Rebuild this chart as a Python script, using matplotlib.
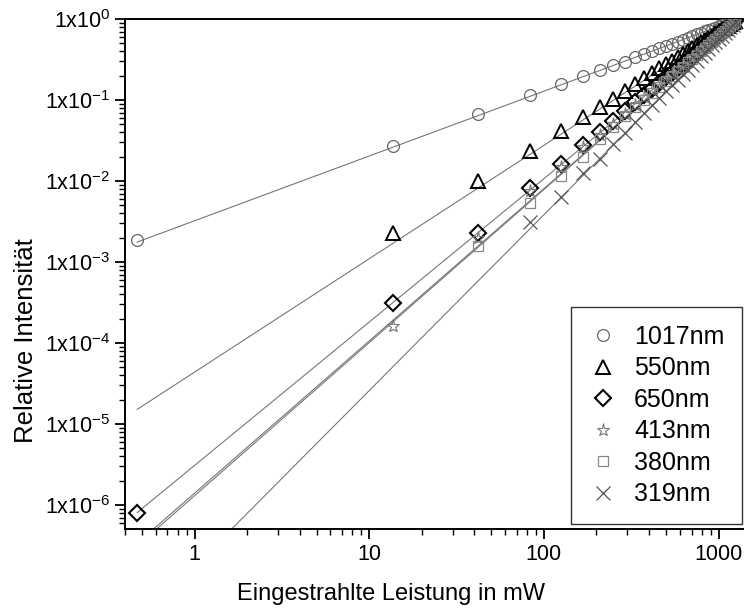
import matplotlib
matplotlib.use('Agg')
import matplotlib.pyplot as plt
import matplotlib.ticker as ticker
import numpy as np

plt.rcParams['font.family'] = ['Liberation Sans', 'DejaVu Sans']
plt.rcParams['mathtext.default'] = 'regular'

# pump power in mW (first two points, then the regular measurement grid)
x_main = [41.7, 83.3, 125.0, 166.7, 208.3, 250.0, 291.7, 333.3, 375.0, 416.7,
          458.3, 500.0, 541.7, 583.3, 625.0, 666.7, 708.3, 750.0, 791.7, 833.3,
          875.0, 916.7, 958.3, 1000.0, 1041.7, 1083.3, 1125.0, 1166.7, 1208.3, 1250.0]
x_low = [0.47, 13.6]

y_1017 = [1.87e-3, 0.027,
          0.067, 0.115, 0.158, 0.198, 0.234, 0.270, 0.294, 0.337, 0.370, 0.403,
          0.434, 0.466, 0.497, 0.527, 0.557, 0.586, 0.615, 0.644, 0.673, 0.701,
          0.728, 0.756, 0.784, 0.811, 0.838, 0.865, 0.891, 0.917, 0.943, 0.969]
y_550 = [2.3e-3,
         0.010, 0.0235, 0.041, 0.062, 0.082, 0.103, 0.129, 0.158, 0.187, 0.215,
         0.245, 0.275, 0.307, 0.339, 0.372, 0.406, 0.440, 0.476, 0.513, 0.549,
         0.586, 0.623, 0.663, 0.702, 0.742, 0.782, 0.822, 0.865, 0.906, 0.948]
y_650 = [7.9e-7, 3.1e-4,
         2.3e-3, 8.2e-3, 0.016, 0.028, 0.040, 0.055, 0.073, 0.094, 0.115, 0.138,
         0.163, 0.190, 0.218, 0.248, 0.280, 0.313, 0.347, 0.384, 0.423, 0.461,
         0.502, 0.544, 0.589, 0.634, 0.681, 0.729, 0.776, 0.828, 0.880, 0.934]
y_413 = [1.6e-4,
         2.0e-3, 7.5e-3, 0.0148, 0.026, 0.037, 0.051, 0.068, 0.087, 0.109, 0.132,
         0.156, 0.182, 0.211, 0.240, 0.272, 0.305, 0.339, 0.376, 0.414, 0.453,
         0.494, 0.536, 0.582, 0.627, 0.675, 0.723, 0.773, 0.824, 0.877, 0.933]
y_380 = [1.58e-3, 5.3e-3, 0.0115, 0.020, 0.033, 0.047, 0.063, 0.082, 0.100, 0.122,
         0.145, 0.171, 0.198, 0.227, 0.258, 0.291, 0.325, 0.361, 0.400, 0.440,
         0.481, 0.524, 0.570, 0.615, 0.664, 0.714, 0.764, 0.819, 0.873, 0.931]
y_319 = [3.1e-3, 6.3e-3, 0.0125, 0.0187, 0.029, 0.039, 0.054, 0.069, 0.087,
         0.106, 0.128, 0.152, 0.179, 0.207, 0.238, 0.271, 0.306, 0.345, 0.385,
         0.427, 0.471, 0.520, 0.569, 0.622, 0.676, 0.733, 0.792, 0.853, 0.919]

# power-law fits y = (x / x_norm) ** slope
x_norm = 1300.0
slopes = [0.80, 1.40, 1.77, 1.89, 1.88, 2.17]
labels = ['1017nm', '550nm', '650nm', '413nm', '380nm', '319nm']

series = [
    (x_low + x_main, y_1017, 'o', 8.5, '#666666', 0.9),
    (x_low[1:] + x_main, y_550, '^', 9.5, 'black', 1.4),
    (x_low + x_main, y_650, 'D', 8, 'black', 1.5),
    (x_low[1:] + x_main, y_413, '*', 9.5, '#777777', 0.8),
    (x_main, y_380, 's', 7.5, '#888888', 0.9),
    (x_main[1:], y_319, 'x', 9.5, '#555555', 0.9),
]

fig = plt.figure(figsize=(7.44, 6.10), dpi=100)
ax = fig.add_axes([125/744, 1-529/610, 618/744, 510/610])

xfit = np.logspace(np.log10(0.47), np.log10(1500), 200)
for p in slopes:
    ax.plot(xfit, (xfit/x_norm)**p, color='#777777', lw=0.8, zorder=1)

for (xs, ys, m, ms, c, mew), lab in zip(series, labels):
    ax.plot(xs, ys, ls='none', marker=m, ms=ms, mfc='none', mec=c, mew=mew,
            label=lab, zorder=3)

ax.set_xscale('log')
ax.set_yscale('log')
ax.set_xlim(0.40, 1380)
ax.set_ylim(5.06e-7, 1)

ax.xaxis.set_major_locator(ticker.FixedLocator([1, 10, 100, 1000]))
ax.xaxis.set_major_formatter(ticker.FixedFormatter(['1', '10', '100', '1000']))
ax.xaxis.set_minor_locator(ticker.LogLocator(base=10, subs=np.arange(2, 10), numticks=20))
ax.xaxis.set_minor_formatter(ticker.NullFormatter())

yt = [10.0**e for e in range(-6, 1)]
ax.yaxis.set_major_locator(ticker.FixedLocator(yt))
ax.yaxis.set_major_formatter(ticker.FixedFormatter(
    ['1x10$^{%d}$' % e for e in range(-6, 1)]))
ax.yaxis.set_minor_locator(ticker.LogLocator(base=10, subs=np.arange(2, 10), numticks=20))
ax.yaxis.set_minor_formatter(ticker.NullFormatter())

ax.tick_params(which='major', direction='out', length=7, width=1.3, labelsize=15.5)
ax.tick_params(which='minor', direction='out', length=4, width=1.0)
ax.spines['right'].set_visible(False)
for s in ['left', 'bottom', 'top']:
    ax.spines[s].set_linewidth(1.4)

ax.set_xlabel('Eingestrahlte Leistung in mW', fontsize=17)
ax.set_ylabel('Relative Intensität', fontsize=18.5)
ax.xaxis.set_label_coords(0.43, -0.105)
ax.yaxis.set_label_coords(-0.14, 0.37)

leg = ax.legend(loc='lower right', bbox_to_anchor=(0.998, 0.01), fontsize=18,
                frameon=True, fancybox=False, edgecolor='black', borderaxespad=0,
                handletextpad=0.7, labelspacing=0.3, borderpad=0.7,
                handlelength=1.1, markerscale=1.0)
leg.get_frame().set_linewidth(1.0)

plt.savefig('out.png', dpi=100)
